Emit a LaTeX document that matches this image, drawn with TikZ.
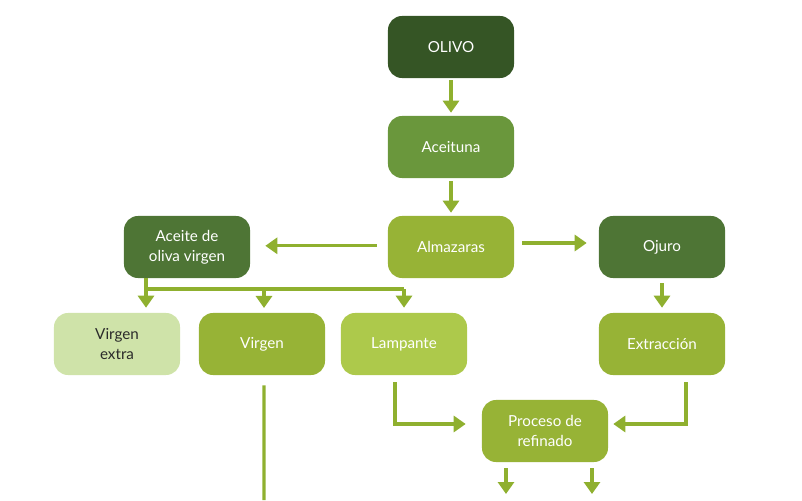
\documentclass[tikz,border=0pt]{standalone}
\usepackage{fontspec}
\setmainfont{Lato}
\usetikzlibrary{positioning}
\usetikzlibrary{arrows.meta}

\definecolor{olivodark}{HTML}{355525}
\definecolor{olivomid}{HTML}{4E7535}
\definecolor{olivoleaf}{HTML}{6A973C}
\definecolor{olivolime}{HTML}{97B336}
\definecolor{olivolight}{HTML}{ADC94B}
\definecolor{olivopale}{HTML}{CFE3A9}
\definecolor{olivoline}{HTML}{8FB02F}
\definecolor{olivotext}{HTML}{2A2A2A}

\begin{document}
\begin{tikzpicture}[
  x=0.025cm, y=-0.025cm,
  box/.style={rounded corners=0.35cm, minimum width=3.15cm, minimum height=1.55cm, align=center, text=white, font=\fontsize{10.8}{14}\selectfont},
  pale/.style={box, fill=olivopale, text=olivotext},
  flow/.style={draw=olivoline, line width=2.2pt},
  arr/.style={flow, -{Triangle[length=0.3cm, width=0.4cm]}}
]
\useasboundingbox (0,0) rectangle (802,500);

% Main column
\node[box, fill=olivodark] (olivo) at (451, 47) {OLIVO};
\node[box, fill=olivoleaf] (aceituna) at (451, 147) {Aceituna};
\node[box, fill=olivolime] (almazaras) at (451, 247) {Almazaras};

% Side branches
\node[box, fill=olivomid] (aceite) at (187, 247) {Aceite de\\oliva virgen};
\node[box, fill=olivomid] (ojuro) at (662, 247) {Ojuro};

% Oil types
\node[pale] (vextra) at (117, 344) {Virgen\\extra};
\node[box, fill=olivolime] (virgen) at (262, 344) {Virgen};
\node[box, fill=olivolight] (lampante) at (404, 344) {Lampante};
\node[box, fill=olivolime] (extraccion) at (662, 344) {Extracción};
\node[box, fill=olivolime] (proceso) at (545, 431) {Proceso de\\refinado};

% Free ends
\coordinate (split) at (146, 289);
\coordinate (virgenend) at (264, 500);
\coordinate (refA) at (506, 494);
\coordinate (refB) at (592, 494);

% Arrows
\draw[arr, shorten <=0.05cm, shorten >=0.075cm] (olivo) -- (aceituna);
\draw[arr, shorten <=0.075cm, shorten >=0.075cm] (aceituna) -- (almazaras);
\draw[arr, shorten <=0.275cm, shorten >=0.375cm] ([yshift=0.03cm]almazaras.west) -- ([yshift=0.03cm]aceite.east);
\draw[arr, shorten <=0.2cm, shorten >=0.3cm] ([yshift=0.1cm]almazaras.east) -- ([yshift=0.1cm]ojuro.west);
\draw[arr, shorten <=0.125cm, shorten >=0.125cm] (ojuro) -- (extraccion);

\draw[flow] (aceite.south -| split) -- (split) -- (split -| lampante.north);
\draw[arr, shorten >=0.125cm] (split) -- (split |- vextra.north);
\draw[arr, shorten >=0.125cm] (split -| 264,0) -- (264,313);
\draw[arr, shorten >=0.125cm] (split -| lampante.north) -- (lampante.north);

\draw[flow] ([xshift=0.05cm, yshift=-0.25cm]virgen.south) -- (virgenend |- 0,500);
\draw[arr, shorten >=0.4cm] ([xshift=-0.225cm, yshift=-0.175cm]lampante.south) |- ([yshift=0.175cm]proceso.west);
\draw[arr, shorten >=0.125cm] ([xshift=0.6cm, yshift=-0.175cm]extraccion.south) |- ([yshift=0.175cm]proceso.east);
\draw[arr] ([yshift=-0.15cm]proceso.south -| refA) -- (refA);
\draw[arr] ([yshift=-0.15cm]proceso.south -| refB) -- (refB);

\end{tikzpicture}
\end{document}
